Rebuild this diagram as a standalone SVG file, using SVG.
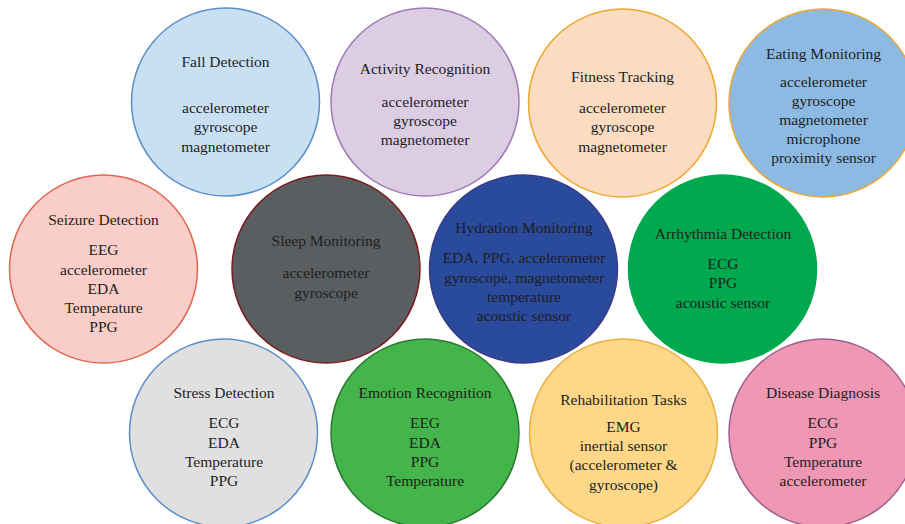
<svg xmlns="http://www.w3.org/2000/svg" width="905" height="524" viewBox="0 0 905 524" font-family="'Liberation Serif', 'DejaVu Serif', serif">
<style>
  .c { stroke-width: 1.5; }
  text { font-family: 'Liberation Serif', 'DejaVu Serif', serif; font-size: 15.5px; fill: #1e1e1e; text-anchor: middle; }
</style>
<rect width="905" height="524" fill="#ffffff"/>
<g id="fall-detection">
  <circle class="c" cx="225.5" cy="102" r="94" fill="#c9e0f3" stroke="#5b8fc9"/>
  <text x="225.5" y="67">Fall Detection</text>
  <text x="225.5" y="113">accelerometer</text>
  <text x="225.5" y="132">gyroscope</text>
  <text x="225.5" y="152">magnetometer</text>
</g>
<g id="activity-recognition">
  <circle class="c" cx="425" cy="102" r="94" fill="#ddcde3" stroke="#9e7bb5"/>
  <text x="425" y="74">Activity Recognition</text>
  <text x="425" y="107">accelerometer</text>
  <text x="425" y="126">gyroscope</text>
  <text x="425" y="145">magnetometer</text>
</g>
<g id="fitness-tracking">
  <circle class="c" cx="622.5" cy="103" r="94" fill="#fbdcc1" stroke="#eea72e"/>
  <text x="622.5" y="82">Fitness Tracking</text>
  <text x="622.5" y="113">accelerometer</text>
  <text x="622.5" y="132">gyroscope</text>
  <text x="622.5" y="152">magnetometer</text>
</g>
<g id="eating-monitoring">
  <circle class="c" cx="823" cy="103" r="94" fill="#8dbae3" stroke="#eea72e"/>
  <text x="823.5" y="59">Eating Monitoring</text>
  <text x="823.5" y="87">accelerometer</text>
  <text x="823.5" y="106">gyroscope</text>
  <text x="823.5" y="125">magnetometer</text>
  <text x="823.5" y="144">microphone</text>
  <text x="823.5" y="163">proximity sensor</text>
</g>
<g id="seizure-detection">
  <circle class="c" cx="103.5" cy="269" r="94" fill="#f9cdc8" stroke="#e06650"/>
  <text x="103.5" y="225">Seizure Detection</text>
  <text x="103.5" y="255">EEG</text>
  <text x="103.5" y="275">accelerometer</text>
  <text x="103.5" y="294">EDA</text>
  <text x="103.5" y="313">Temperature</text>
  <text x="103.5" y="332">PPG</text>
</g>
<g id="sleep-monitoring">
  <circle class="c" cx="326" cy="269" r="94" fill="#5a5e61" stroke="#7b1b20"/>
  <text x="326" y="246">Sleep Monitoring</text>
  <text x="326" y="278">accelerometer</text>
  <text x="326" y="298">gyroscope</text>
</g>
<g id="hydration-monitoring">
  <circle class="c" cx="523.5" cy="269" r="94" fill="#2a4a9c" stroke="#3d3a8a"/>
  <text x="524" y="233">Hydration Monitoring</text>
  <text x="524" y="263">EDA, PPG, accelerometer</text>
  <text x="524" y="283">gyroscope, magnetometer</text>
  <text x="524" y="302">temperature</text>
  <text x="524" y="321">acoustic sensor</text>
</g>
<g id="arrhythmia-detection">
  <circle class="c" cx="722.5" cy="269" r="94" fill="#00a84e" stroke="#00a84e"/>
  <text x="723" y="239">Arrhythmia Detection</text>
  <text x="723" y="269">ECG</text>
  <text x="723" y="288">PPG</text>
  <text x="723" y="308">acoustic sensor</text>
</g>
<g id="stress-detection">
  <circle class="c" cx="223.5" cy="433" r="94" fill="#e0e0e0" stroke="#5b8fc9"/>
  <text x="224" y="398">Stress Detection</text>
  <text x="224" y="428">ECG</text>
  <text x="224" y="448">EDA</text>
  <text x="224" y="467">Temperature</text>
  <text x="224" y="486">PPG</text>
</g>
<g id="emotion-recognition">
  <circle class="c" cx="425" cy="433" r="94" fill="#44b54a" stroke="#2a7a30"/>
  <text x="425" y="398">Emotion Recognition</text>
  <text x="425" y="428">EEG</text>
  <text x="425" y="448">EDA</text>
  <text x="425" y="467">PPG</text>
  <text x="425" y="486">Temperature</text>
</g>
<g id="rehabilitation-tasks">
  <circle class="c" cx="623.5" cy="433" r="94" fill="#fcd888" stroke="#e8b040"/>
  <text x="623.5" y="405">Rehabilitation Tasks</text>
  <text x="623.5" y="432">EMG</text>
  <text x="623.5" y="451">inertial sensor</text>
  <text x="623.5" y="470">(accelerometer &amp;</text>
  <text x="623.5" y="490">gyroscope)</text>
</g>
<g id="disease-diagnosis">
  <circle class="c" cx="823" cy="433" r="94" fill="#f097b4" stroke="#9b6090"/>
  <text x="823" y="398">Disease Diagnosis</text>
  <text x="823" y="428">ECG</text>
  <text x="823" y="448">PPG</text>
  <text x="823" y="467">Temperature</text>
  <text x="823" y="486">accelerometer</text>
</g>
<g id="connectors"></g>
</svg>
